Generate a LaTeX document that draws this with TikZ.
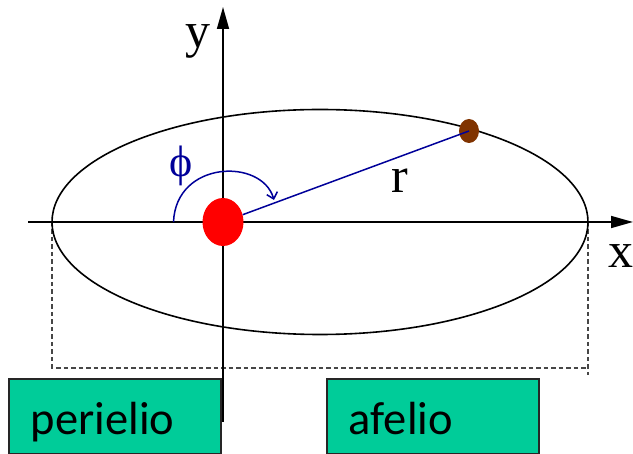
\documentclass[tikz,border=0pt]{standalone}
\usepackage{fontspec}
\setmainfont{Liberation Serif}
\newfontfamily\boxfont{Carlito}
\usetikzlibrary{shapes.geometric,arrows.meta}
\definecolor{orbitblue}{RGB}{0,0,153}
\definecolor{boxgreen}{RGB}{0,204,153}
\definecolor{planetbrown}{RGB}{128,51,0}
\definecolor{dashgray}{RGB}{70,70,70}
\tikzset{
  axis/.style={line width=1.6pt,-{Triangle[length=22pt,width=12pt]}},
  orbit/.style={line width=1.6pt},
  guide/.style={line width=1.5pt,dashgray,dash pattern=on 4.5pt off 3pt},
  bluearrow/.style={line width=1.5pt,orbitblue},
  axlabel/.style={font=\fontsize{50}{56}\selectfont,inner sep=0pt,anchor=base},
  labelbox/.style={draw=black!85,line width=1.6pt,fill=boxgreen,minimum width=212pt,minimum height=75pt,
    anchor=north west,text width=168pt,align=left,inner xsep=22pt,inner ysep=0pt,
    text height=37pt,text depth=1pt,font=\boxfont\fontsize{46.5}{52}\selectfont},
}
\begin{document}
\begin{tikzpicture}[x=1pt,y=-1pt]
\useasboundingbox (0,0) rectangle (633,454);
% label boxes
\node[labelbox] (peri) at (8,378) {perielio};
\node[labelbox] (afel) at (326,378) {afelio};
% dashed guides
\coordinate (P) at (52,222);
\coordinate (A) at (588,222);
\coordinate (Pb) at (52,368);
\coordinate (Ab) at (588,375);
\draw[guide] (P) -- (Pb) -- (Pb -| A);
\draw[guide] (A) -- (Ab);
% ellipse orbit
\node[ellipse,draw,orbit,minimum width=536pt,minimum height=225pt,inner sep=0pt] (orb) at (320,222) {};
% axes
\coordinate (xs) at (28,222);
\coordinate (xe) at (633,222);
\coordinate (ys) at (223,422);
\coordinate (ye) at (223,7);
\draw[axis] (xs) -- (xe);
\draw[axis] (ys) -- (ye);
% bodies
\node[ellipse,fill=planetbrown,minimum width=20pt,minimum height=24pt,inner sep=0pt] (planet) at (469,131) {};
\node[ellipse,fill=red,minimum width=41pt,minimum height=48pt,inner sep=0pt] (sun) at (223,222) {};
\draw[bluearrow] (sun) -- (planet.center);
% angle arrow
\coordinate (a0) at (173.5,222);
\coordinate (a1) at (274,200);
\draw[bluearrow,-{Straight Barb[length=6pt,width=11pt]}] (a0) .. controls (176,160) and (262,158) .. (a1);
% labels
\node[axlabel] (ylab) at (197.5,48) {y};
\node[axlabel] (xlab) at (621,268) {x};
\node[axlabel] (rlab) at (400,193) {r};
\node[font=\fontsize{44}{50}\selectfont,text=orbitblue,inner sep=0pt] (philab) at (181.5,166) {ϕ};
\end{tikzpicture}
\end{document}
